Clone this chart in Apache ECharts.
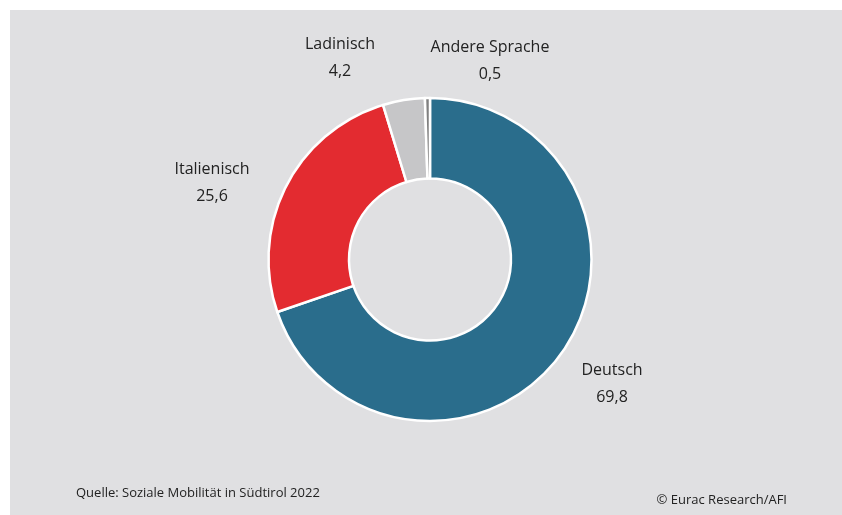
<!DOCTYPE html>
<html>
<head>
<meta charset="utf-8">
<script src="https://cdn.jsdelivr.net/npm/echarts@6/dist/echarts.min.js"></script>
<style>
  html, body { margin: 0; padding: 0; background: #fff; }
  #chart { position: absolute; left: 10px; top: 10px; width: 832px; height: 505px; background: #e0e0e2; }
</style>
</head>
<body>
<div id="chart"></div>
<script>
// Sprachgruppen (Anteil in %)
const categories = ['Deutsch', 'Italienisch', 'Ladinisch', 'Andere Sprache']
const values = [69.8, 25.6, 4.2, 0.5]
const colors = ['#2a6d8c', '#e32b30', '#c6c6c8', '#808080']

// Label-Mittelpunkte (relativ zum Chart-Container)
const LABEL_POS = [[602, 374], [202, 173], [330, 48], [480, 51]]

const chart = echarts.init(document.getElementById('chart'))

const option = {
  backgroundColor: '#e0e0e2',
  animation: false,
  textStyle: { fontFamily: 'Open Sans' },
  graphic: [
    {
      type: 'text',
      left: 66,
      top: 477,
      style: { text: 'Quelle: Soziale Mobilität in Südtirol 2022', fill: '#222', font: '13px "Open Sans"' }
    },
    {
      type: 'text',
      right: 55,
      top: 484,
      style: { text: '© Eurac Research/AFI', fill: '#222', font: '13px "Open Sans"' }
    }
  ],
  series: [
    {
      type: 'pie',
      center: [420, 249.5],
      radius: [81, 161.5],
      startAngle: 90,
      clockwise: true,
      avoidLabelOverlap: false,
      itemStyle: { borderColor: '#fff', borderWidth: 2.5 },
      label: {
        show: true,
        position: 'outside',
        formatter: (p) => p.name + '\n' + String(p.value).replace('.', ','),
        color: '#222',
        fontSize: 16,
        lineHeight: 27,
        align: 'center'
      },
      labelLine: { show: false },
      labelLayout: (params) => ({
        x: LABEL_POS[params.dataIndex][0],
        y: LABEL_POS[params.dataIndex][1],
        align: 'center',
        verticalAlign: 'middle'
      }),
      emphasis: { disabled: true },
      data: categories.map((name, i) => ({ name, value: values[i], itemStyle: { color: colors[i] } }))
    }
  ]
}

chart.setOption(option)
</script>
</body>
</html>
